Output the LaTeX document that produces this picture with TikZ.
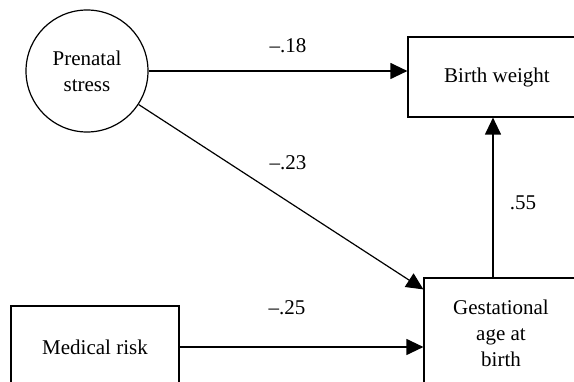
\documentclass[tikz,border=0pt]{standalone}
\usepackage{fontspec}
\setmainfont{Liberation Serif}
\usetikzlibrary{arrows.meta}
\begin{document}
\begin{tikzpicture}[x=1pt,y=-1pt,
  every node/.style={font=\fontsize{21}{26}\selectfont, inner sep=0pt},
  latent/.style={draw, circle, line width=1.2pt, minimum size=122pt, align=center},
  observed/.style={draw, rectangle, line width=1.2pt, align=center},
  path/.style={line width=1.2pt, -{Triangle[length=17pt,width=16pt]}},
  coef/.style={}]
  \useasboundingbox (0,0) rectangle (574,382);
  \clip (0,0) rectangle (574,382);

  % variables
  \node[latent] (stress) at (87,71) {Prenatal\\stress};
  \node[observed, minimum width=178pt, minimum height=80pt] (bw) at (497,77) {Birth weight};
  \node[observed, minimum width=154pt, minimum height=110pt] (gest) at (501,333) {Gestational\\age at\\birth};
  \node[observed, minimum width=168pt, minimum height=82pt] (med) at (95,347) {Medical risk};

  % paths
  \draw[path] (stress.east) -- (stress.east -| bw.west);
  \draw[path] (stress) -- ([yshift=-12pt]gest.north west);
  \draw[path] ([xshift=-8pt]gest.north) -- ([xshift=-8pt]gest.north |- bw.south);
  \draw[path] (med.east) -- (med.east -| gest.west);

  % coefficients
  \node[coef] (c1) at (288,46) {--.18};
  \node[coef] (c2) at (288,163) {--.23};
  \node[coef] (c3) at (523,203) {.55};
  \node[coef] (c4) at (287,308) {--.25};
\end{tikzpicture}
\end{document}
